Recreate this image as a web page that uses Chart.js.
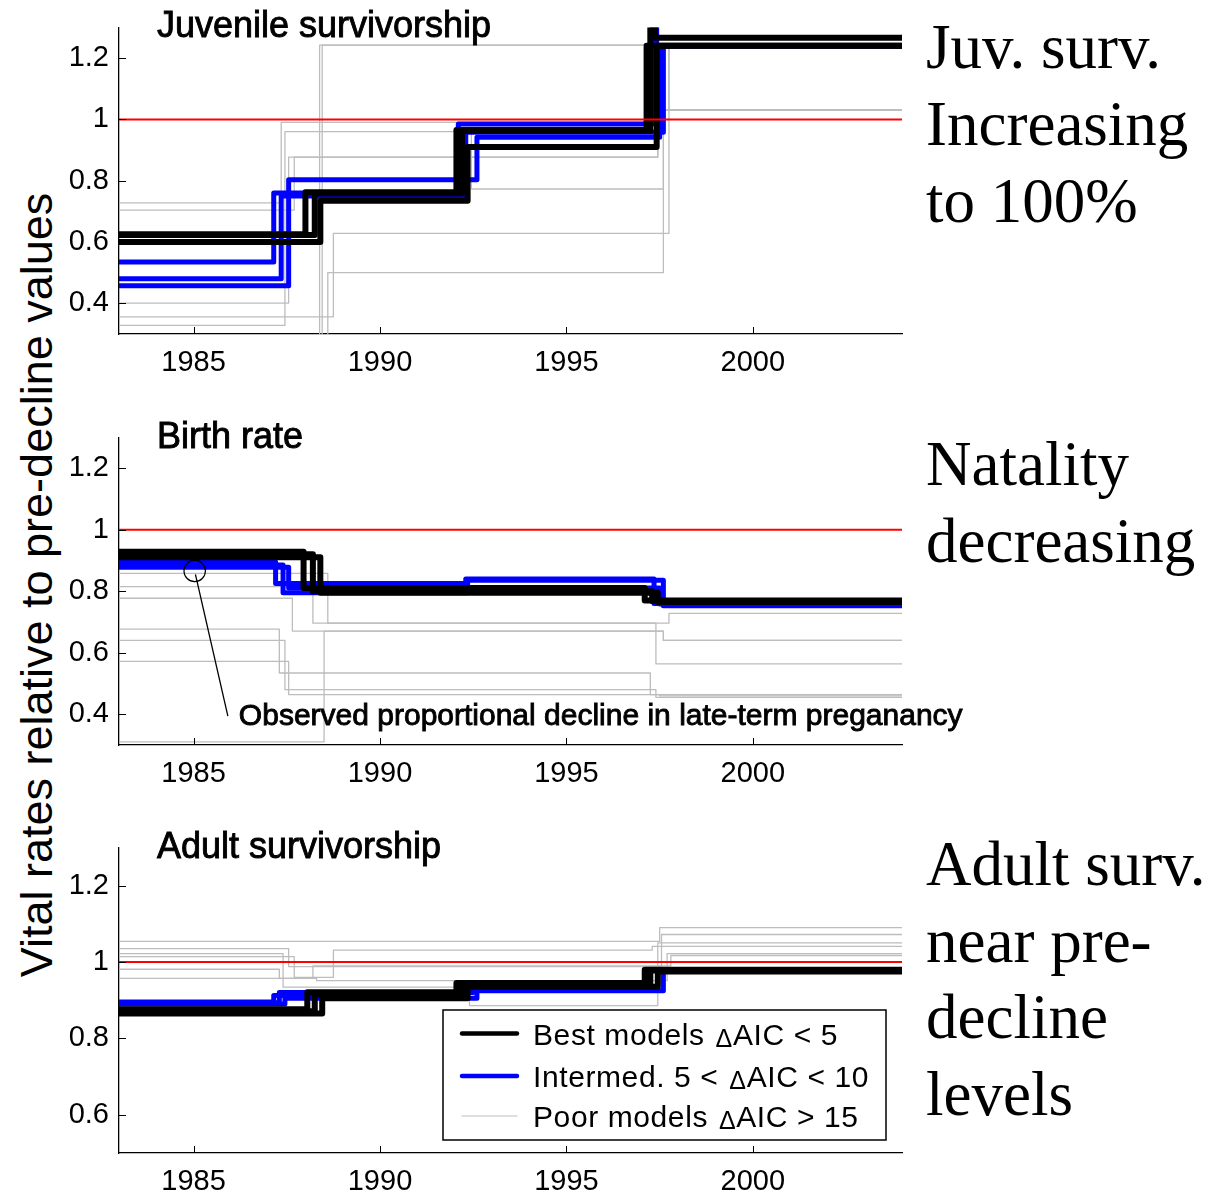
<!DOCTYPE html>
<html>
<head>
<meta charset="utf-8">
<script src="https://cdn.jsdelivr.net/npm/chart.js@4.4.0/dist/chart.umd.min.js"></script>
<style>
  html, body { margin: 0; padding: 0; background: #fff; overflow: hidden; }
  canvas { position: absolute; left: 0; }
  #ylabel {
    position: absolute; left: 37px; top: 585px;
    transform: translate(-50%, -50%) rotate(-90deg);
    font: 45px "Liberation Sans", Arial, sans-serif;
    white-space: nowrap; color: #000;
  }
</style>
</head>
<body>
<div id="ylabel">Vital rates relative to pre-decline values</div>
<canvas id="juv" width="1230" height="410" style="top:0"></canvas>
<canvas id="birth" width="1230" height="410" style="top:410px"></canvas>
<canvas id="adult" width="1230" height="375" style="top:820px"></canvas>
<script>
Chart.defaults.font.family = '"Liberation Sans", Arial, sans-serif';
Chart.defaults.color = "#000";

const xRange = [1983, 2004];
const xTicks = [1985, 1990, 1995, 2000];
const yTicksJuv = [0.4, 0.6, 0.8, 1, 1.2];
const yTicksBirth = [0.4, 0.6, 0.8, 1, 1.2];
const yTicksAdult = [0.6, 0.8, 1, 1.2];

// each model = list of [year, value] change points (value holds until next change)
const juvBest = [
  [[1983, 0.625], [1988.0, 0.762], [1992.05, 0.965], [1997.15, 1.24]],
  [[1983, 0.623], [1988.25, 0.758], [1992.2, 0.962], [1997.25, 1.36], [1997.38, 1.266]],
  [[1983, 0.6], [1988.4, 0.735], [1992.35, 0.91], [1997.42, 1.24]],
];
const juvInter = [
  [[1983, 0.535], [1987.15, 0.76], [1992.1, 0.985], [1997.3, 1.36], [1997.42, 1.24]],
  [[1983, 0.48], [1987.35, 0.75], [1992.3, 0.958], [1997.6, 1.24]],
  [[1983, 0.457], [1987.55, 0.803], [1992.6, 0.942], [1997.5, 1.24]],
];
const juvPoor = [
  [[1983, 0.728], [1987.35, 0.99], [1997.5, 1.03]],
  [[1983, 0.704], [1987.7, 0.877], [1997.45, 1.03]],
  [[1983, 0.401], [1987.55, 0.877], [1997.45, 1.03]],
  [[1983, 0.328], [1987.45, 0.96], [1992.45, 0.773], [1997.6, 1.03]],
  [[1983, 0.26], [1988.38, 1.242], [1997.75, 1.03]],
  [[1983, 0.26], [1988.45, 1.242], [1997.75, 1.03]],
  [[1983, 0.26], [1988.6, 0.5], [1997.6, 1.03]],
  [[1983, 0.356], [1988.75, 0.628], [1997.75, 1.03]],
];

const birthBest = [
  [[1983, 0.928], [1987.95, 0.81], [1997.1, 0.77]],
  [[1983, 0.92], [1988.2, 0.8], [1997.3, 0.768]],
  [[1983, 0.91], [1988.4, 0.795], [1997.45, 0.765]],
];
const birthInter = [
  [[1983, 0.895], [1987.2, 0.825], [1992.3, 0.84], [1997.35, 0.76]],
  [[1983, 0.885], [1987.4, 0.795], [1992.35, 0.836], [1997.6, 0.753]],
  [[1983, 0.878], [1987.55, 0.81], [1997.5, 0.758]],
];
const birthPoor = [
  [[1983, 0.858], [1988.6, 0.696], [1997.75, 0.728]],
  [[1983, 0.815], [1988.2, 0.696], [1997.4, 0.564]],
  [[1983, 0.777], [1987.65, 0.67], [1997.6, 0.64]],
  [[1983, 0.677], [1987.3, 0.534], [1997.25, 0.464]],
  [[1983, 0.64], [1987.45, 0.48], [1997.4, 0.455]],
  [[1983, 0.572], [1987.55, 0.464], [1997.5, 0.46]],
  [[1983, 0.31], [1988.5, 0.67], [1997.6, 0.64]],
];
// observed late-term pregnancy decline (circled) and its leader line
const birthObserved = [[1985.03, 0.866]];
const birthLeader = [[1985.05, 0.855], [1985.92, 0.394]];
const birthNote = "Observed proportional decline in late-term preganancy";

const adultBest = [
  [[1983, 0.876], [1988.05, 0.921], [1992.05, 0.945], [1997.1, 0.98]],
  [[1983, 0.871], [1988.25, 0.915], [1992.2, 0.94], [1997.25, 0.978]],
  [[1983, 0.865], [1988.45, 0.905], [1992.35, 0.935], [1997.45, 0.975]],
];
const adultInter = [
  [[1983, 0.895], [1987.15, 0.912], [1992.1, 0.945], [1997.2, 0.978]],
  [[1983, 0.893], [1987.3, 0.92], [1992.5, 0.93], [1997.45, 0.978]],
  [[1983, 0.89], [1987.45, 0.905], [1992.6, 0.925], [1997.6, 0.975]],
];
const adultPoor = [
  [[1983, 1.054], [1997.5, 1.09]],
  [[1983, 1.035], [1987.55, 0.988], [1997.55, 1.072]],
  [[1983, 1.022], [1987.4, 0.934], [1992.4, 0.886], [1997.45, 1.05]],
  [[1983, 1.014], [1987.7, 0.96], [1988.75, 1.031], [1997.3, 1.041]],
  [[1983, 0.981], [1987.3, 0.957], [1988.3, 0.951], [1997.7, 1.022]],
  [[1983, 0.957], [1988.2, 0.99], [1997.8, 1.017]],
];

const legendLabels = ["Best models \u0394AIC < 5", "Intermed. 5 < \u0394AIC < 10", "Poor models \u0394AIC > 15"];

const BLACK = "#000000", BLUE = "#0000ff", GREY = "#bdbdbd", RED = "#ff0000";

function stepSet(pts, color, width) {
  const data = pts.map(([x, y]) => ({ x, y }));
  data.push({ x: xRange[1], y: pts[pts.length - 1][1] });
  return {
    data, borderColor: color, borderWidth: width, stepped: true,
    pointRadius: 0, borderCapStyle: "round", borderJoinStyle: "round", fill: false,
  };
}

function heavyText(ctx, txt, x, y, size) {
  ctx.font = size + 'px "Liberation Sans", Arial, sans-serif';
  ctx.fillText(txt, x, y);
  ctx.lineWidth = 0.9;
  ctx.strokeText(txt, x, y);
}

const panelText = {
  id: "panelText",
  afterDraw(chart, args, o) {
    const ctx = chart.ctx;
    const a = chart.chartArea;
    const sx = chart.scales.x, sy = chart.scales.y;
    ctx.save();
    // inward tick marks
    ctx.strokeStyle = "#000";
    ctx.lineWidth = 1;
    ctx.beginPath();
    sx.ticks.forEach((t) => {
      const px = Math.round(sx.getPixelForValue(t.value)) + 0.5;
      ctx.moveTo(px, a.bottom);
      ctx.lineTo(px, a.bottom - 7);
    });
    sy.ticks.forEach((t) => {
      const py = Math.round(sy.getPixelForValue(t.value)) + 0.5;
      ctx.moveTo(a.left, py);
      ctx.lineTo(a.left + 7, py);
    });
    ctx.stroke();

    ctx.fillStyle = "#000";
    ctx.strokeStyle = "#000";
    ctx.textBaseline = "alphabetic";
    ctx.textAlign = "left";
    heavyText(ctx, o.title, 157, o.titleY, 36);

    ctx.font = '63px "Liberation Serif", "Times New Roman", serif';
    o.notes.forEach((line, i) => ctx.fillText(line, 926, o.noteY + i * 76.7));

    if (o.note) {
      const [nx, ny] = birthLeader[1];
      heavyText(ctx, o.note, sx.getPixelForValue(nx) + 11, sy.getPixelForValue(ny) + 8.5, 30);
    }

    if (o.legend) {
      const b = o.legend;
      ctx.fillStyle = "#fff";
      ctx.fillRect(b.x, b.y, b.w, b.h);
      ctx.strokeStyle = "#000";
      ctx.lineWidth = 1.5;
      ctx.strokeRect(b.x, b.y, b.w, b.h);
      const styles = [[BLACK, 4.5], [BLUE, 4.5], [GREY, 1.2]];
      if ("letterSpacing" in ctx) ctx.letterSpacing = "0.6px";
      legendLabels.forEach((lab, i) => {
        const ry = b.y + b.rows[i];
        ctx.strokeStyle = styles[i][0];
        ctx.lineWidth = styles[i][1];
        ctx.lineCap = "round";
        ctx.beginPath();
        ctx.moveTo(b.x + 19, ry);
        ctx.lineTo(b.x + 74, ry);
        ctx.stroke();
        ctx.fillStyle = "#000";
        const parts = lab.split("\u0394");
        let tx = b.x + 90;
        const base = ry + 11;
        ctx.font = '30px "Liberation Sans", Arial, sans-serif';
        ctx.fillText(parts[0], tx, base);
        tx += ctx.measureText(parts[0]).width + 2;
        ctx.font = '25px "Liberation Sans", Arial, sans-serif';
        ctx.fillText("\u0394", tx, base + 2);
        tx += ctx.measureText("\u0394").width;
        ctx.font = '30px "Liberation Sans", Arial, sans-serif';
        ctx.fillText(parts[1], tx, base);
      });
    }
    ctx.restore();
  },
};

function makePanel(id, p) {
  const datasets = [];
  if (p.observed) {
    datasets.push({
      data: p.observed.map(([x, y]) => ({ x, y })), showLine: false,
      pointRadius: 10.7, pointBorderColor: BLACK, pointBorderWidth: 1.2,
      pointBackgroundColor: "rgba(0,0,0,0)",
    });
    datasets.push({
      data: p.leader.map(([x, y]) => ({ x, y })), borderColor: BLACK,
      borderWidth: 1.3, pointRadius: 0,
    });
  }
  datasets.push({
    data: [{ x: xRange[0], y: 1 }, { x: xRange[1], y: 1 }],
    borderColor: RED, borderWidth: 2, pointRadius: 0,
  });
  p.best.forEach((s) => datasets.push(stepSet(s, BLACK, 6)));
  p.inter.forEach((s) => datasets.push(stepSet(s, BLUE, 5)));
  p.poor.forEach((s) => datasets.push(stepSet(s, GREY, 1.3)));

  return new Chart(document.getElementById(id).getContext("2d"), {
    type: "line",
    data: { datasets },
    options: {
      responsive: false,
      animation: false,
      events: [],
      layout: { padding: { left: 0, right: 328, top: p.top, bottom: 0 } },
      plugins: {
        legend: { display: false },
        tooltip: { enabled: false },
        panelText: {
          title: p.title, titleY: p.titleY, notes: p.notes, noteY: p.noteY,
          note: p.note, legend: p.legend,
        },
      },
      scales: {
        x: {
          type: "linear", min: xRange[0], max: xRange[1],
          afterBuildTicks: (s) => { s.ticks = xTicks.map((v) => ({ value: v })); },
          afterFit: (s) => { s.height = p.xHeight; },
          ticks: { callback: (v) => String(v), font: { size: 29 }, padding: 12, maxRotation: 0, autoSkip: false },
          grid: { display: false, drawTicks: false },
          border: { display: true, color: "#000", width: 1.3 },
        },
        y: {
          type: "linear", min: p.yMin, max: 1.3,
          afterBuildTicks: (s) => { s.ticks = p.yTicks.map((v) => ({ value: v })); },
          afterFit: (s) => { s.width = 119; },
          ticks: { callback: (v) => String(v), font: { size: 29 }, padding: 10, autoSkip: false },
          grid: { display: false, drawTicks: false },
          border: { display: true, color: "#000", width: 1.3 },
        },
      },
    },
    plugins: [panelText],
  });
}

makePanel("juv", {
  best: juvBest, inter: juvInter, poor: juvPoor,
  yMin: 0.3, yTicks: yTicksJuv, top: 25, xHeight: 76,
  title: "Juvenile survivorship", titleY: 37,
  notes: ["Juv. surv.", "Increasing", "to 100%"], noteY: 68.3,
});

makePanel("birth", {
  best: birthBest, inter: birthInter, poor: birthPoor,
  observed: birthObserved, leader: birthLeader, note: birthNote,
  yMin: 0.3, yTicks: yTicksBirth, top: 25, xHeight: 75,
  title: "Birth rate", titleY: 38.3,
  notes: ["Natality", "decreasing"], noteY: 75,
});

makePanel("adult", {
  best: adultBest, inter: adultInter, poor: adultPoor,
  yMin: 0.5, yTicks: yTicksAdult, top: 27, xHeight: 42,
  title: "Adult survivorship", titleY: 38.3,
  notes: ["Adult surv.", "near pre-", "decline", "levels"], noteY: 65,
  legend: { x: 443, y: 190, w: 443, h: 130, rows: [23.5, 66, 106] },
});
</script>
</body>
</html>
